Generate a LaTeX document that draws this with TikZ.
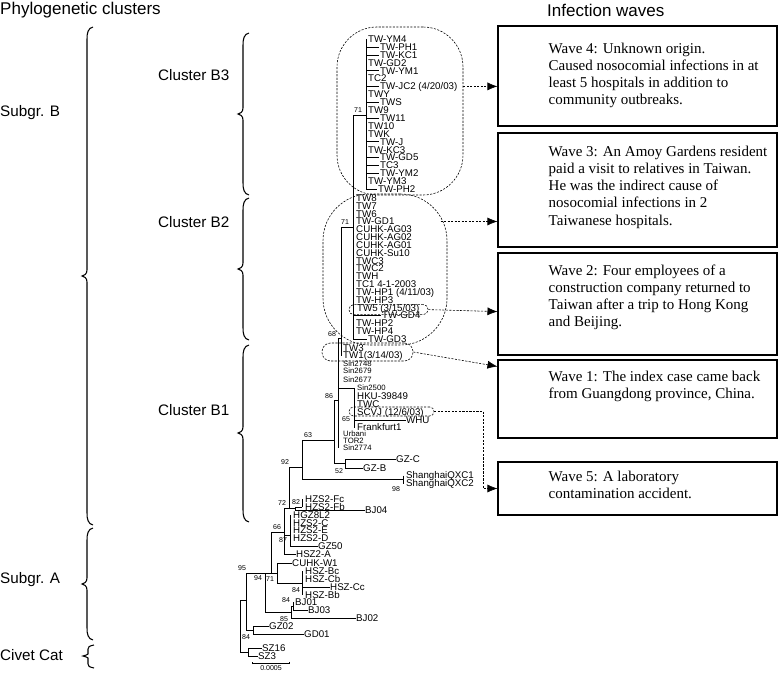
\documentclass[tikz,border=0pt]{standalone}
\usepackage{fontspec}
\setmainfont{Liberation Serif}
\setsansfont{Liberation Sans}
\usetikzlibrary{arrows.meta,positioning,calc}

% curly bracket: x, top, tip, bottom, hook
\newcommand{\clbrace}[5]{%
  \draw[brc] (#1+6,#2) .. controls (#1+1,#2+1) and (#1,#2+#5/2) .. (#1,#2+#5)
    -- (#1,#3-#5/2) .. controls (#1,#3-2) and (#1-3,#3) .. (#1-5,#3)
    .. controls (#1-3,#3) and (#1,#3+2) .. (#1,#3+#5/2)
    -- (#1,#4-#5) .. controls (#1,#4-#5/2) and (#1+1,#4-1) .. (#1+6,#4);}

\begin{document}
\begin{tikzpicture}[
  x=0.3mm, y=-0.3mm,
  br/.style={line width=0.45pt},
  leaf/.style={anchor=west, inner sep=0pt, font=\sffamily\fontsize{8.3}{8.3}\selectfont,
               text height=5.9pt, text depth=0pt},
  small/.style={leaf, font=\sffamily\fontsize{6.6}{6.6}\selectfont, text height=4.7pt},
  boot/.style={inner sep=0pt, font=\sffamily\fontsize{6}{6}\selectfont},
  grp/.style={anchor=west, inner sep=0pt, font=\sffamily\fontsize{13}{13}\selectfont},
  head/.style={anchor=west, inner sep=0pt, font=\sffamily\fontsize{14.5}{14.5}\selectfont},
  brc/.style={line width=0.9pt},
  wavebox/.style={draw, line width=0.9pt, minimum width=83.7mm, inner sep=0pt},
  wavetxt/.style={anchor=north west, inner sep=0pt, align=left,
                  font=\fontsize{12.8}{14.7}\selectfont},
  dbox/.style={draw, dash pattern=on 1.8pt off 1.2pt, line width=0.5pt, inner sep=0pt},
  wavearr/.style={dbox, -{Latex[length=3mm, width=2.4mm]}}
]
\useasboundingbox (0,0) rectangle (780,672);

% headings
\node[head] (phylo) at (0,10) {Phylogenetic clusters};
\node[head] (waves) at (547,10) {Infection waves};

% groups
\node[grp] (sgB) at (0,113) {Subgr. B};
\node[grp] (sgA) at (0,580) {Subgr. A};
\node[grp] (civet) at (0,655) {Civet Cat};
\node[grp] (clB3) at (158,75) {Cluster B3};
\node[grp] (clB2) at (158,222) {Cluster B2};
\node[grp] (clB1) at (158,410) {Cluster B1};
\clbrace{87}{27}{276}{525}{12}
\clbrace{87}{528}{584}{640}{12}
\clbrace{88}{645}{656}{668}{4}
\clbrace{243}{33}{114}{195}{12}
\clbrace{243}{198}{269}{340}{12}
\clbrace{243}{345}{433}{522}{12}

% cluster B3
\coordinate (b3) at (366,115);
\foreach \lab/\x [count=\i] in {TW-YM4/368, TW-PH1/380, TW-KC1/380, TW-GD2/368,
    TW-YM1/380, TC2/368, {TW-JC2 (4/20/03)}/380, TWY/368, TWS/380, TW9/368,
    TW11/380, TW10/368, TWK/368, TW-J/380, TW-KC3/368, TW-GD5/380, TC3/380,
    TW-YM2/380, TW-YM3/368, TW-PH2/378}{
  \node[leaf] (b3-\i) at (\x,{39+7.9*(\i-1)}) {\lab};
  \ifnum\x>370 \draw[br] (b3 |- b3-\i.west) -- ([xshift=-0.5pt]b3-\i.west); \fi
}
\draw[br] (b3 |- b3-1.west) -- (b3 |- b3-20.west);

% cluster B2
\coordinate (b2) at (353,227);
\foreach \lab/\x [count=\i] in {TW8/356, TW7/356, TW6/356, TW-GD1/356, CUHK-AG03/356,
    CUHK-AG02/356, CUHK-AG01/356, CUHK-Su10/356, TWC3/356, TWC2/356, TWH/356,
    {TC1 4-1-2003}/356, {TW-HP1 (4/11/03)}/356, TW-HP3/356, {TW5 (3/15/03)}/357,
    TW-GD4/382, TW-HP2/356, TW-HP4/356, TW-GD3/368}{
  \node[leaf] (b2-\i) at (\x,{198+7.83*(\i-1)}) {\lab};
  \ifnum\x>360 \draw[br] (b2 |- b2-\i.west) -- ([xshift=-0.5pt]b2-\i.west); \fi
}
\draw[br] (b2 |- b3) -- (b2 |- b2-19.west);
\draw[br] (b2 |- b3) -- (b3);
\node[boot] (bs-b3) at (358,110) {71};

% cluster B1
\coordinate (n68) at (341,338);
\node[leaf] (tw3) at (343,348) {TW3};
\node[leaf] (tw1) at (343,355.5) {TW1(3/14/03)};
\draw[br] (n68 |- b2) -- (n68 |- tw1.west);
\draw[br] (n68 |- b2) -- (b2);
\node[boot] (bs-b2) at (345,222) {71};

\coordinate (n86) at (338,400);
\foreach \lab/\y [count=\i] in {Sin2748/363.5, Sin2679/371, Sin2677/380,
    Urbani/434, TOR2/441, Sin2774/448}{
  \node[small] (sin-\i) at (343,\y) {\lab};
}
\draw[br] (n86 |- n68) -- (n86 |- sin-6.west);
\draw[br] (n86 |- n68) -- (n68);
\node[boot] (bs-68) at (332,334) {68};

\coordinate (s25) at (354,388);
\node[small] (sin2500) at (357,388) {Sin2500};
\node[leaf] (hku) at (357,396) {HKU-39849};
\node[leaf] (twc) at (357,404) {TWC};
\node[leaf] (scvj) at (357,412) {SCVJ (12/6/03)};
\node[leaf] (whu) at (406,420) {WHU};
\node[leaf] (frank) at (357,427.5) {Frankfurt1};
\draw[br] (n86 |- s25) -- (s25) -- (s25 |- frank.west);
\draw[br] (s25 |- whu.west) -- (whu.west);
\node[boot] (bs-65) at (346,419) {65};

\coordinate (n63) at (334,440);
\coordinate (gz) at (345,463);
\node[leaf] (gzc) at (396,459) {GZ-C};
\node[leaf] (gzb) at (363,468) {GZ-B};
\draw[br] (n63 |- n86) -- (n63 |- gz) -- (gz);
\draw[br] (n63 |- n86) -- (n86);
\draw[br] (gzc.west) -- (gz |- gzc.west) -- (gz |- gzb.west) -- (gzb.west);
\node[boot] (bs-86) at (329,396) {86};
\node[boot] (bs-52) at (339,471) {52};

\coordinate (nB) at (302,467);
\coordinate (qxc) at (403,479);
\node[leaf] (qxc1) at (406,475.5) {ShanghaiQXC1};
\node[leaf] (qxc2) at (406,483.5) {ShanghaiQXC2};
\draw[br] (nB |- n63) -- (nB |- qxc) -- (qxc);
\draw[br] (nB |- n63) -- (n63);
\draw[br] (qxc |- qxc1.west) -- (qxc |- qxc2.west);
\node[boot] (bs-63) at (308,435) {63};
\node[boot] (bs-98) at (396,489) {98};

% subgroup A
\coordinate (n289) at (289,508);
\coordinate (n295) at (295,508);
\coordinate (hf) at (302,507);
\node[leaf] (hzsfc) at (305,499) {HZS2-Fc};
\node[leaf] (hzsfb) at (305,507) {HZS2-Fb};
\node[leaf] (bj04) at (365,510) {BJ04};
\draw[br] (n289 |- nB) -- (n289) -- (n295);
\draw[br] (n289 |- nB) -- (nB);
\draw[br] (n295 |- hf) -- (n295 |- bj04.west) -- (bj04.west);
\draw[br] (n295 |- hf) -- (hf);
\draw[br] (hf |- hzsfc.west) -- (hf);
\node[boot] (bs-92) at (285,462) {92};
\node[boot] (bs-72) at (282,503) {72};
\node[boot] (bs-82) at (296,502) {82};

\coordinate (n284) at (284,532);
\coordinate (n87) at (290,535);
\foreach \lab [count=\i] in {HGZ8L2, HZS2-C, HZS2-E, HZS2-D}{
  \node[leaf] (hz-\i) at (293,{515+7.7*(\i-1)}) {\lab};
}
\node[leaf] (gz50) at (318,546.5) {GZ50};
\node[leaf] (hsz2a) at (296,554.5) {HSZ2-A};
\draw[br] (n87 |- hz-1.west) -- (n87 |- gz50.west) -- (gz50.west);
\draw[br] (n284 |- n289) -- (n284 |- hsz2a.west) -- (hsz2a.west);
\draw[br] (n284 |- n289) -- (n289);
\draw[br] (n284 |- n87) -- (n87);
\node[boot] (bs-87) at (283,540) {87};

\coordinate (n66) at (271,573);
\draw[br] (n66 |- n284) -- (n66);
\draw[br] (n66 |- n284) -- (n284);
\node[boot] (bs-66) at (277,527) {66};

\coordinate (n71) at (277,573);
\coordinate (hsz) at (302,583);
\node[leaf] (cuhkw1) at (292,563) {CUHK-W1};
\node[leaf] (hszbc) at (305,571) {HSZ-Bc};
\node[leaf] (hszcb) at (305,579) {HSZ-Cb};
\node[leaf] (hszcc) at (330,587) {HSZ-Cc};
\node[leaf] (hszbb) at (305,595) {HSZ-Bb};
\draw[br] (cuhkw1.west) -- (n71 |- cuhkw1.west) -- (n71 |- hsz) -- (hsz);
\draw[br] (n66) -- (n71);
\draw[br] (hsz |- hszbc.west) -- (hsz |- hszbb.west);
\draw[br] (hsz |- hszcc.west) -- (hszcc.west);
\node[boot] (bs-71) at (270,579) {71};
\node[boot] (bs-84a) at (296,590) {84};

\coordinate (n94) at (265,573);
\coordinate (bj) at (291,612);
\coordinate (bj13) at (293,606);
\node[leaf] (bj01) at (295,602) {BJ01};
\node[leaf] (bj03) at (308,610) {BJ03};
\node[leaf] (bj02) at (356,618) {BJ02};
\draw[br] (n94) -- (n66);
\draw[br] (n94) -- (n94 |- bj) -- (bj);
\draw[br] (bj |- bj13) -- (bj |- bj02.west) -- (bj02.west);
\draw[br] (bj |- bj13) -- (bj13);
\draw[br] (bj13 |- bj01.west) -- (bj13 |- bj03.west) -- (bj03.west);
\node[boot] (bs-94) at (258,578) {94};
\node[boot] (bs-84b) at (286,600) {84};
\node[boot] (bs-85) at (284,619) {85};

% root and civet cat
\coordinate (n95) at (246,573);
\coordinate (gg) at (253,630);
\node[leaf] (gz02) at (269,626) {GZ02};
\node[leaf] (gd01) at (304,634) {GD01};
\draw[br] (n95) -- (n94);
\draw[br] (n95) -- (n95 |- gg) -- (gg);
\draw[br] (gz02.west) -- (gg |- gz02.west) -- (gg |- gd01.west) -- (gd01.west);
\node[boot] (bs-95) at (242,568) {95};
\node[boot] (bs-84c) at (246,637) {84};

\coordinate (root) at (240,600);
\coordinate (cv) at (248,652);
\node[leaf] (sz16) at (262,648) {SZ16};
\node[leaf] (sz3) at (258,656.5) {SZ3};
\draw[br] (root) -- (n95 |- root);
\draw[br] (root) -- (root |- cv) -- (cv);
\draw[br] (sz16.west) -- (cv |- sz16.west) -- (cv |- sz3.west) -- (sz3.west);

% scale bar
\coordinate (sbL) at (252,663);
\coordinate (sbR) at (290,663);
\draw[br, {Bar[width=2pt]}-{Bar[width=2pt]}] (sbL) -- (sbR);
\node[boot] (sblab) at (271,668.5) {0.0005};

% dashed marks
\node[dbox, rounded corners=12mm, minimum width=37.8mm, minimum height=50.4mm] (b3box) at (400,111) {};
\node[dbox, rounded corners=14mm, minimum width=37.2mm, minimum height=45.3mm] (b2box) at (385,269.5) {};
\node[dbox, rounded corners=1.4mm, minimum width=23.7mm, minimum height=3mm] (tw5box) at (388.5,309.6) {};
\node[dbox, rounded corners=2.6mm, minimum width=27.3mm, minimum height=5.4mm] (tw1box) at (367.5,352) {};
\node[dbox, rounded corners=1.3mm, minimum width=25.5mm, minimum height=2.7mm] (scvjbox) at (391.5,411.5) {};

% infection waves
\node[wavebox, minimum height=30mm] (w4) at (637.5,76) {};
\node[wavebox, minimum height=34.2mm] (w3) at (637.5,190) {};
\node[wavebox, minimum height=30.6mm] (w2) at (637.5,304) {};
\node[wavebox, minimum height=23.4mm] (w1) at (637.5,399) {};
\node[wavebox, minimum height=15.9mm] (w5) at (637.5,488.5) {};

\node[wavetxt] (w4t) at ($(w4.north west)+(51,17)$)
  {Wave 4: Unknown origin.\\Caused nosocomial infections in at\\least 5 hospitals in addition to\\community outbreaks.};
\node[wavetxt] (w3t) at ($(w3.north west)+(51,13)$)
  {Wave 3: An Amoy Gardens resident\\paid a visit to relatives in Taiwan.\\He was the indirect cause of\\nosocomial infections in 2\\Taiwanese hospitals.};
\node[wavetxt] (w2t) at ($(w2.north west)+(51,12)$)
  {Wave 2: Four employees of a\\construction company returned to\\Taiwan after a trip to Hong Kong\\and Beijing.};
\node[wavetxt] (w1t) at ($(w1.north west)+(51,11)$)
  {Wave 1: The index case came back\\from Guangdong province, China.};
\node[wavetxt] (w5t) at ($(w5.north west)+(51,9)$)
  {Wave 5: A laboratory\\contamination accident.};

\draw[wavearr] (b3box.east |- b3-7.west) -- (w4.west |- b3-7.west);
\draw[wavearr] ([xshift=-2mm]b2box.east |- b2-4.west) -- (w3.west |- b2-4.west);
\draw[wavearr] (tw5box.east) -- ([yshift=-0.6mm]tw5box.east -| w2.west);
\draw[wavearr] (tw1box.east) -- ($(w1.north west)+(0,7)$);
\draw[wavearr] (scvjbox.east) -- ++(49,0) |- (w5.west);

\end{tikzpicture}
\end{document}
